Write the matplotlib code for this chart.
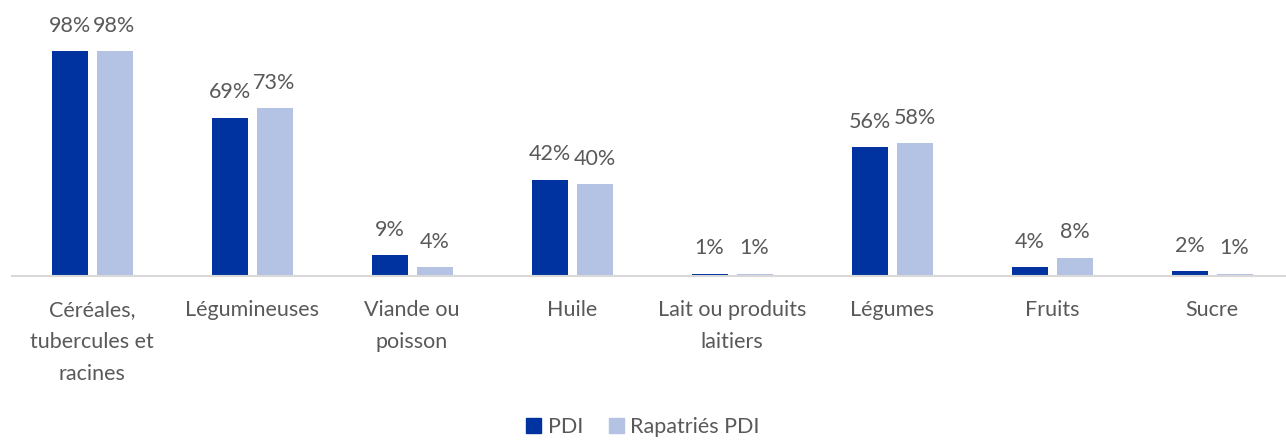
import numpy as np
import matplotlib.pyplot as plt
from matplotlib.patches import Patch

plt.rcParams['font.family'] = ['Lato', 'DejaVu Sans']

categories = ["Céréales,\ntubercules et\nracines", "Légumineuses", "Viande ou\npoisson",
              "Huile", "Lait ou produits\nlaitiers", "Légumes", "Fruits", "Sucre"]
pdi = [98, 69, 9, 42, 1, 56, 4, 2]
rapatries = [98, 73, 4, 40, 1, 58, 8, 1]
series_names = ["PDI", "Rapatriés PDI"]

dark = "#0033A0"
light = "#B4C2E3"
grey = "#595959"
fs = 15.5

W, H = 1286, 440
fig = plt.figure(figsize=(W / 100, H / 100), dpi=100)
# axis line at y=276 px, 98% top at y=51 px
bottom_px = 276
px_per_unit = 225 / 98
ymax = 100
ax = fig.add_axes([12 / W, (H - bottom_px) / H, (W - 12) / W, ymax * px_per_unit / H])

x = np.arange(len(categories))
bw = 36 / 160
off = 22.5 / 160
b1 = ax.bar(x - off, pdi, bw, color=dark)
b2 = ax.bar(x + off, rapatries, bw, color=light)

for bars, vals in ((b1, pdi), (b2, rapatries)):
    for rect, v in zip(bars, vals):
        ax.annotate(f"{v}%", (rect.get_x() + rect.get_width() / 2, rect.get_height()),
                    xytext=(0, 11), textcoords="offset points", ha="center", va="bottom",
                    fontsize=fs, color=grey, annotation_clip=False)

ax.set_xlim(-0.5, -0.5 + (W - 12) / 160)
ax.set_ylim(0, ymax)
ax.set_yticks([])
ax.set_xticks(x)
ax.set_xticklabels(categories, fontsize=fs, color=grey, linespacing=1.75)
ax.tick_params(axis="x", length=0, pad=17)
for s in ("top", "right", "left"):
    ax.spines[s].set_visible(False)
ax.spines["bottom"].set_color("#D9D9D9")
ax.spines["bottom"].set_linewidth(1.5)

handles = [Patch(color=dark), Patch(color=light)]
fig.legend(handles, series_names, loc="center", bbox_to_anchor=(0.5, (H - 427) / H),
           ncol=2, frameon=False, fontsize=fs, labelcolor=grey,
           handlelength=0.7, handleheight=0.7, handletextpad=0.3, columnspacing=1.2)

fig.savefig("out.png", dpi=100)
